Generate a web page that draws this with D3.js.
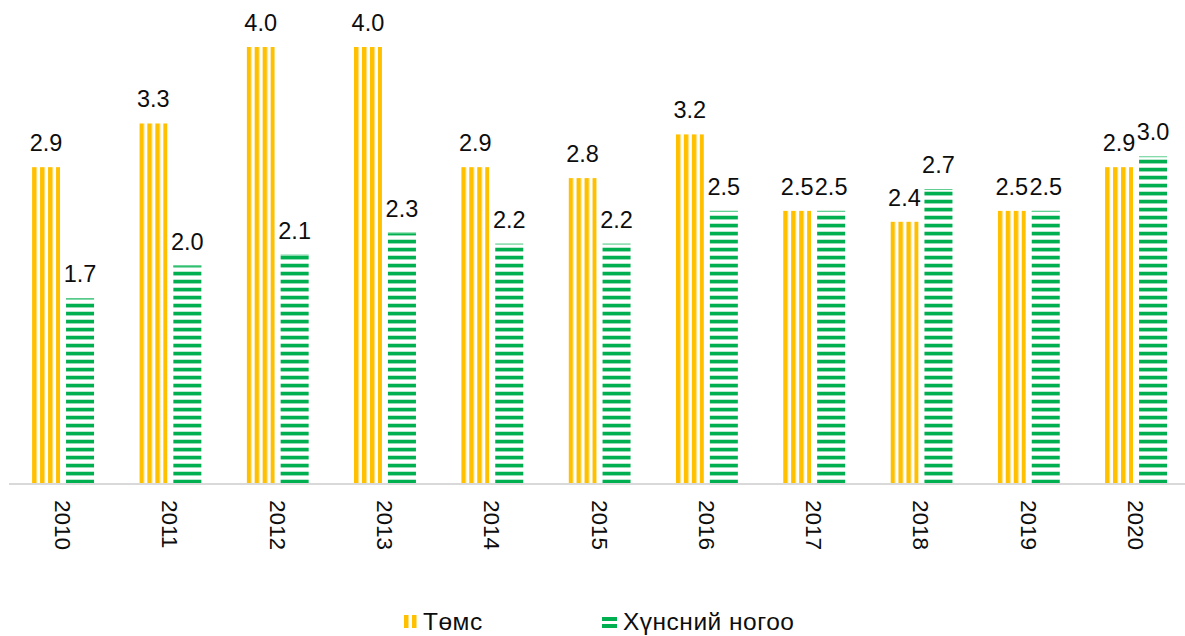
<!DOCTYPE html>
<html>
<head>
<meta charset="utf-8">
<script src="https://cdn.jsdelivr.net/npm/d3@7"></script>
<style>
	body { margin: 0; background: #fff; }
	text { font-family: "Liberation Sans", Arial, sans-serif; fill: #0d0d0d; }
</style>
</head>
<body>
<div id="chart"></div>
<script>
const years = ['2010', '2011', '2012', '2013', '2014', '2015', '2016', '2017', '2018', '2019', '2020'];
const seriesNames = ['Төмс', 'Хүнсний ногоо'];
const potato = [2.9, 3.3, 4.0, 4.0, 2.9, 2.8, 3.2, 2.5, 2.4, 2.5, 2.9];
const vegetables = [1.7, 2.0, 2.1, 2.3, 2.2, 2.2, 2.5, 2.5, 2.7, 2.5, 3.0];

window.onload = function() {
	const width = 1185;
	const height = 636;
	const baseY = 484;

	const svg = d3.select('#chart')
		.append('svg')
		.attr('width', width)
		.attr('height', height);

	const defs = svg.append('defs');

	const xScale = d3.scaleBand()
		.domain(years)
		.range([9.4, 9.4 + 11 * 107.3]);

	const subScale = d3.scaleBand()
		.domain(seriesNames)
		.range([-31, 31])
		.paddingInner(0.176);

	const yScale = d3.scaleLinear()
		.domain([0, 4])
		.range([baseY, 47]);

	const colorScale = d3.scaleOrdinal()
		.domain(seriesNames)
		.range(['#ffc000', '#00b050']);

	const rows = [];
	years.forEach((year, i) => {
		rows.push({ year: year, key: seriesNames[0], value: potato[i], idx: i });
		rows.push({ year: year, key: seriesNames[1], value: vegetables[i], idx: i });
	});

	const barX = d => xScale(d.year) + xScale.bandwidth() / 2 + subScale(d.key);

	// vertical stripes, one pattern per potato bar so they start at the bar's left edge
	rows.filter(d => d.key === seriesNames[0]).forEach(d => {
		const p = defs.append('pattern')
			.attr('id', 'vstripe-' + d.idx)
			.attr('patternUnits', 'userSpaceOnUse')
			.attr('x', barX(d))
			.attr('y', 0)
			.attr('width', 8)
			.attr('height', 8);
		p.append('rect')
			.attr('x', 0).attr('y', 0)
			.attr('width', 4.6).attr('height', 8)
			.attr('fill', colorScale(seriesNames[0]));
		p.append('rect')
			.attr('x', 4.6).attr('y', 0)
			.attr('width', 0.6).attr('height', 8)
			.attr('fill', '#ffe08a');
	});

	// horizontal stripes for vegetables
	const hp = defs.append('pattern')
		.attr('id', 'hstripe')
		.attr('patternUnits', 'userSpaceOnUse')
		.attr('x', 0)
		.attr('y', baseY)
		.attr('width', 8)
		.attr('height', 8);
	hp.append('rect')
		.attr('x', 0).attr('y', 3.4)
		.attr('width', 8).attr('height', 0.6)
		.attr('fill', '#8fd9b0');
	hp.append('rect')
		.attr('x', 0).attr('y', 4)
		.attr('width', 8).attr('height', 3.4)
		.attr('fill', colorScale(seriesNames[1]));
	hp.append('rect')
		.attr('x', 0).attr('y', 7.4)
		.attr('width', 8).attr('height', 0.6)
		.attr('fill', '#8fd9b0');

	const fillFor = d => d.key === seriesNames[0] ? 'url(#vstripe-' + d.idx + ')' : 'url(#hstripe)';

	svg.append('g')
		.selectAll('rect')
		.data(rows)
		.join('rect')
		.attr('x', barX)
		.attr('y', d => yScale(d.value))
		.attr('width', subScale.bandwidth())
		.attr('height', d => baseY - yScale(d.value))
		.attr('fill', fillFor);

	// thin top edge on vegetable bars
	svg.append('g')
		.selectAll('rect')
		.data(rows.filter(d => d.key === seriesNames[1]))
		.join('rect')
		.attr('x', barX)
		.attr('y', d => yScale(d.value))
		.attr('width', subScale.bandwidth())
		.attr('height', 1)
		.attr('fill', '#5fcf8f');

	// value labels
	svg.append('g')
		.selectAll('text')
		.data(rows)
		.join('text')
		.attr('x', d => barX(d) + subScale.bandwidth() / 2)
		.attr('y', d => yScale(d.value) - 16)
		.attr('text-anchor', 'middle')
		.style('font-size', '23.5px')
		.text(d => d.value.toFixed(1));

	// axis
	const xAxis = d3.axisBottom(xScale).tickSize(0).tickPadding(0);
	const axisG = svg.append('g')
		.attr('transform', `translate(0, ${baseY})`)
		.call(xAxis);
	axisG.select('.domain')
		.attr('d', `M9,0H${width}`)
		.attr('stroke', '#d9d9d9')
		.attr('stroke-width', 2);
	axisG.selectAll('.tick text')
		.attr('transform', 'translate(-8, 16) rotate(90)')
		.attr('x', 0)
		.attr('y', 0)
		.attr('dy', 0)
		.attr('text-anchor', 'start')
		.style('font-size', '22.5px')
		.style('font-family', '"Liberation Sans", Arial, sans-serif')
		.style('fill', '#0d0d0d');

	// legend
	const legend = svg.append('g');
	const legendX = [404, 602];
	seriesNames.forEach((name, i) => {
		const g = legend.append('g').attr('transform', `translate(${legendX[i]}, 615)`);
		if (i === 0) {
			[0, 8].forEach(dx => {
				g.append('rect').attr('x', dx).attr('y', 0)
					.attr('width', 4.5).attr('height', 13)
					.attr('fill', colorScale(name));
			});
		} else {
			[2, 9].forEach(dy => {
				g.append('rect').attr('x', 0).attr('y', dy)
					.attr('width', 15).attr('height', 4)
					.attr('fill', colorScale(name));
			});
		}
		g.append('text')
			.attr('x', i === 0 ? 19 : 21)
			.attr('y', 15)
			.style('font-size', '24.5px')
			.style('letter-spacing', '0.5px')
			.text(name);
	});
}
</script>
</body>
</html>
